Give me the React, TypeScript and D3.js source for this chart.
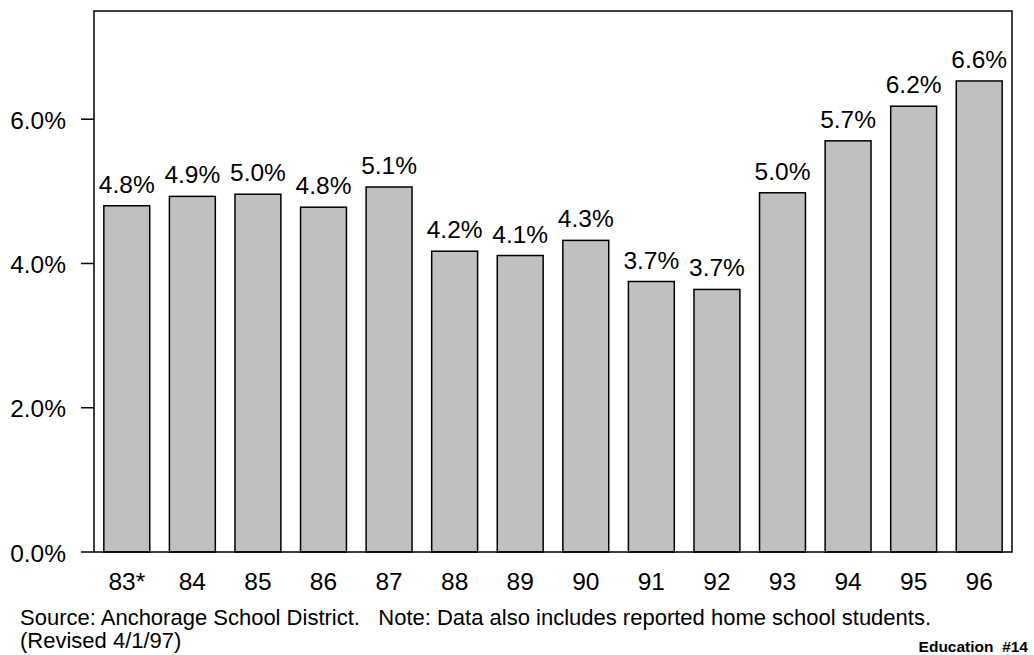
import React from "react";
import * as d3 from "d3";

const categories = ["83*", "84", "85", "86", "87", "88", "89", "90", "91", "92", "93", "94", "95", "96"];
const values = [4.80, 4.93, 4.96, 4.78, 5.06, 4.17, 4.11, 4.32, 3.75, 3.64, 4.98, 5.70, 6.18, 6.53];
const valueLabels = ["4.8%", "4.9%", "5.0%", "4.8%", "5.1%", "4.2%", "4.1%", "4.3%", "3.7%", "3.7%", "5.0%", "5.7%", "6.2%", "6.6%"];
const yTicks = [0, 2, 4, 6];
const sourceLine = "Source: Anchorage School District.   Note: Data also includes reported home school students.";
const revisedLine = "(Revised 4/1/97)";
const badge = "Education  #14";

export default function App() {
  const W = 1034, H = 655;
  const left = 94, right = 1012, top = 11, bottom = 552;
  const x = d3.scaleBand<string>().domain(categories).range([left, right]).paddingInner(0.3).paddingOuter(0.15);
  const y = d3.scaleLinear().domain([0, 7.5]).range([bottom, top]);
  const font = "Arial, 'Liberation Sans', Helvetica, sans-serif";
  return (
    <svg width={W} height={H} style={{ position: "absolute", left: 0, top: 0 }} fontFamily={font}>
      <rect x={0} y={0} width={W} height={H} fill="#fff" />
      {categories.map((c, i) => (
        <g key={c}>
          <rect x={x(c)} y={y(values[i])} width={x.bandwidth()} height={bottom - y(values[i])}
            fill="#c0c0c0" stroke="#000" strokeWidth={1.5} />
          <text x={(x(c) as number) + x.bandwidth() / 2} y={y(values[i]) - 13} textAnchor="middle" fontSize={24.5}>
            {valueLabels[i]}
          </text>
          <text x={(x(c) as number) + x.bandwidth() / 2} y={590} textAnchor="middle" fontSize={24.5}>
            {c}
          </text>
        </g>
      ))}
      <rect x={left} y={top} width={right - left} height={bottom - top} fill="none" stroke="#000" strokeWidth={1.5} />
      {yTicks.map((t) => (
        <g key={t}>
          <line x1={81} x2={left} y1={y(t)} y2={y(t)} stroke="#000" strokeWidth={1.5} />
          <text x={66} y={y(t) + 9.5} textAnchor="end" fontSize={24.5}>{t.toFixed(1) + "%"}</text>
        </g>
      ))}
      <text x={20} y={625} fontSize={22} style={{ whiteSpace: "pre" }} xmlSpace="preserve">{sourceLine}</text>
      <text x={20} y={648} fontSize={22}>{revisedLine}</text>
      <text x={1028} y={652} textAnchor="end" fontSize={15.5} fontWeight="bold" style={{ whiteSpace: "pre" }} xmlSpace="preserve">{badge}</text>
    </svg>
  );
}
